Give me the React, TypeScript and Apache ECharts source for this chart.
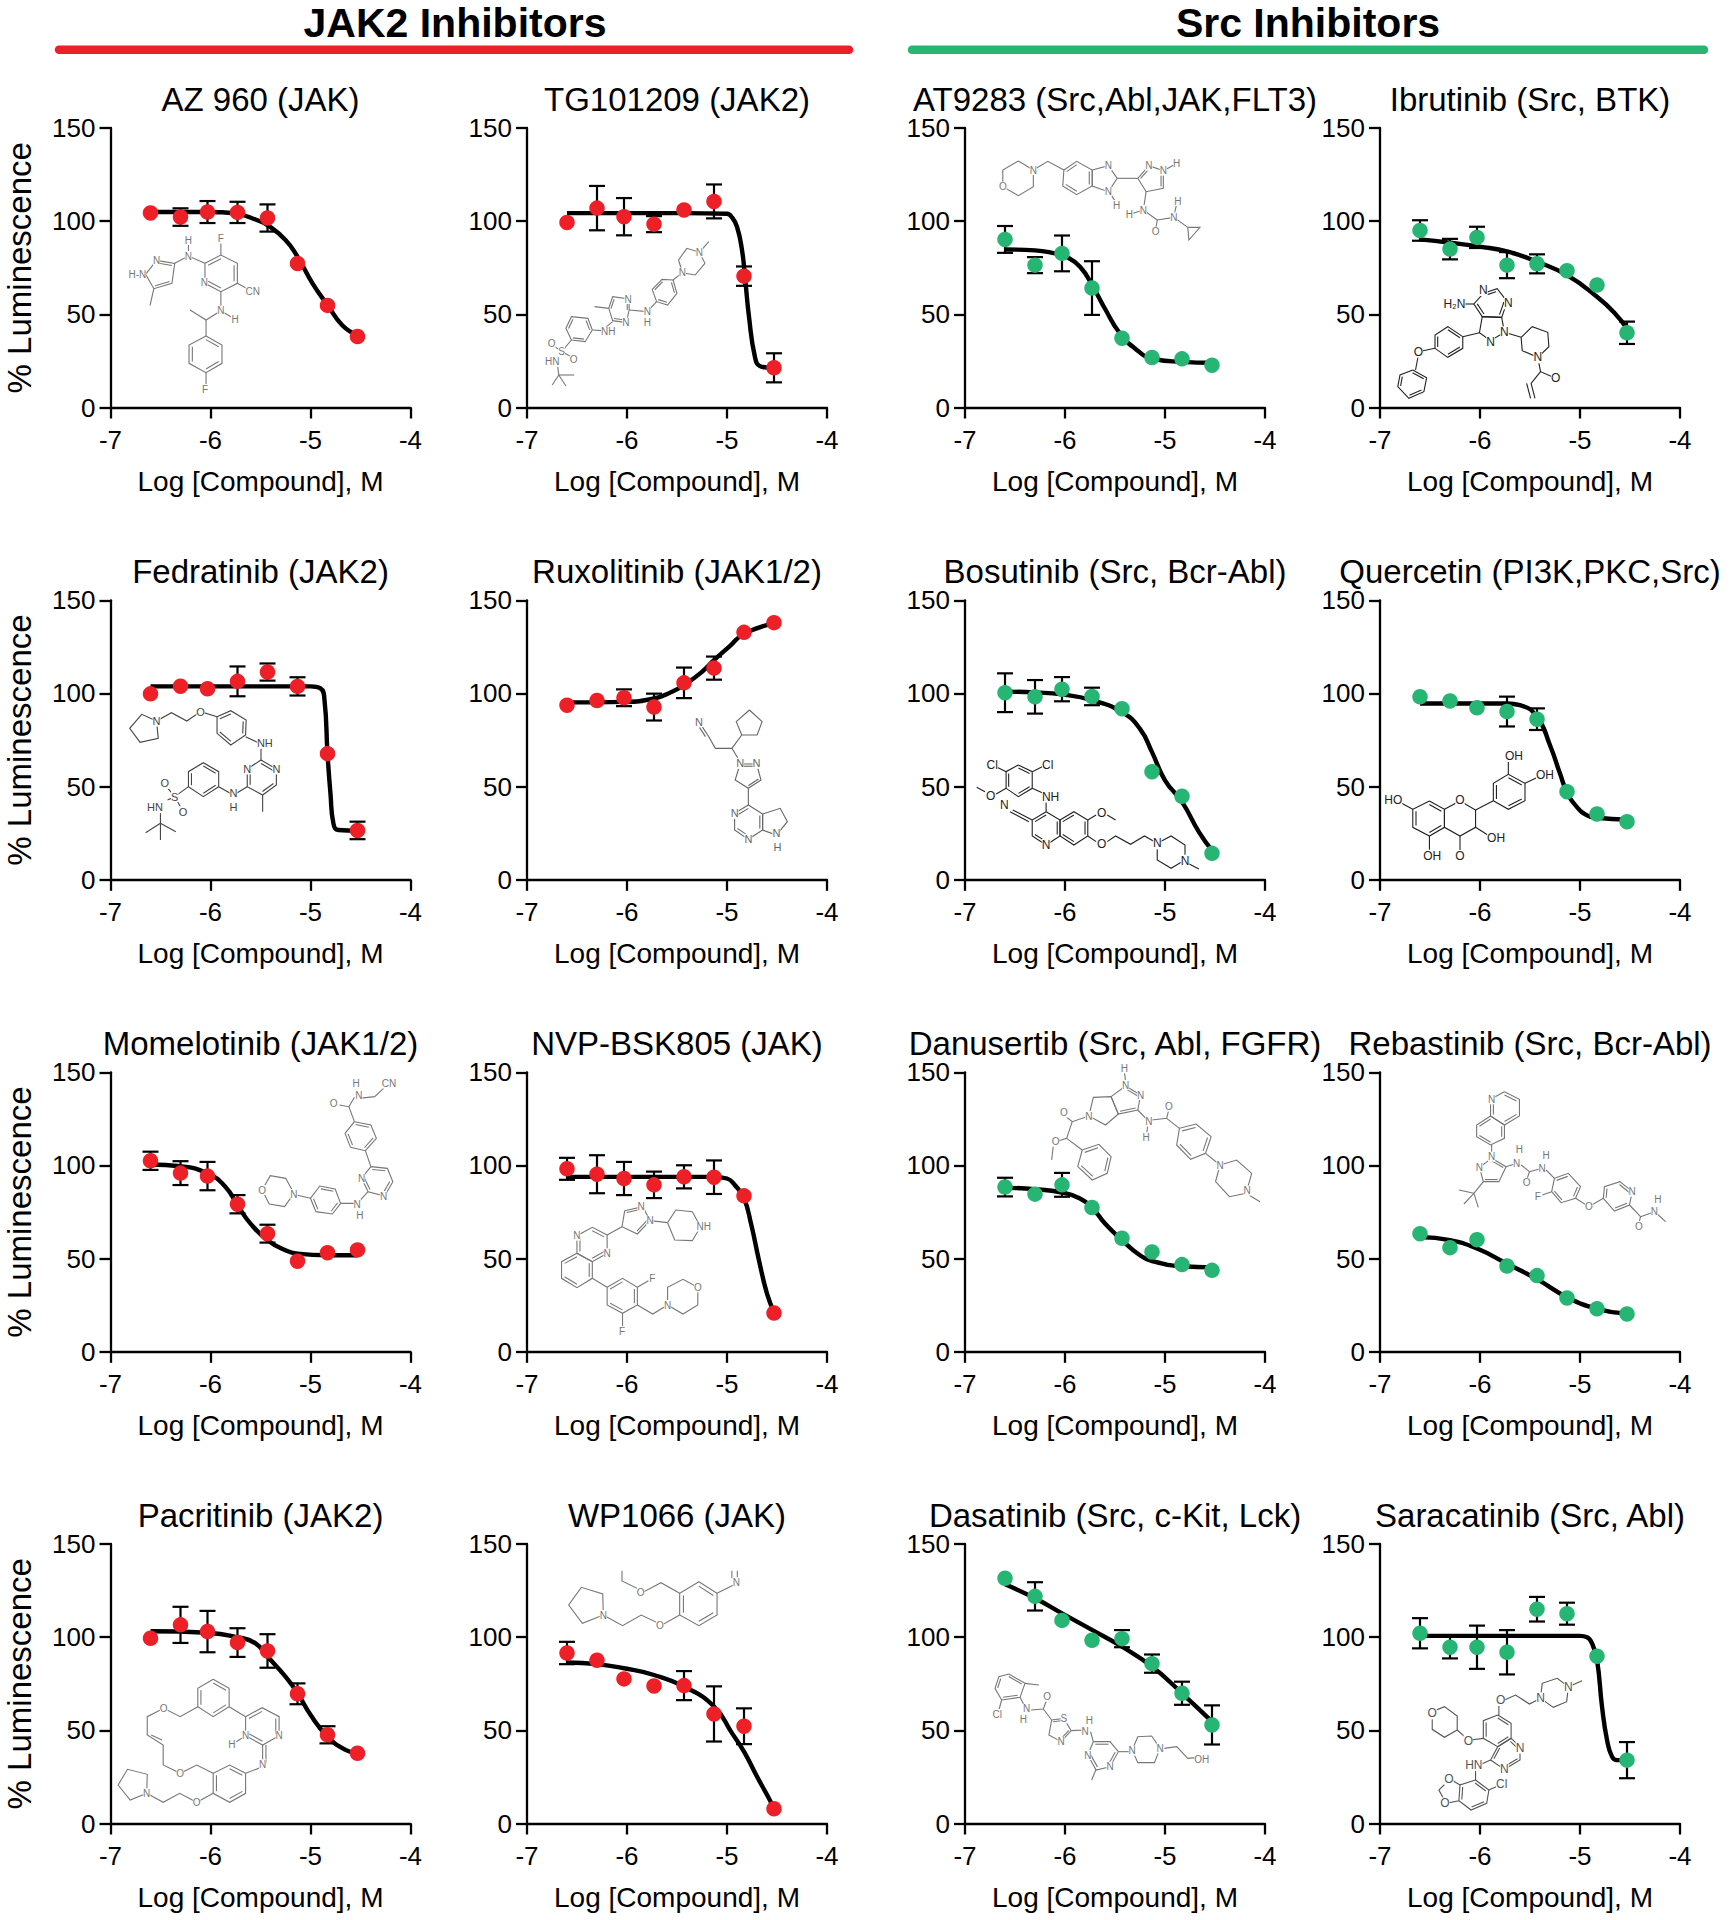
import React, { useEffect, useRef } from "react";
import * as echarts from "echarts";

const FONT = '"Liberation Sans", Arial, sans-serif';
const RED = "#ED2027";
const GREEN = "#27B574";

const doses = [-6.6, -6.3, -6.03, -5.73, -5.43, -5.13, -4.83, -4.53];
const xAxisName = "Log [Compound], M";
const yAxisName = "% Luminescence";

// ---- JAK2 inhibitors ----
const az960Values = [104.4, 102.2, 104.9, 104.7, 101.7, 77.3, 54.8, 38.1];
const az960Err = [0, 4.7, 5.9, 5.7, 7.3, 0, 0, 0];
const az960CurveX = [-6.6, -6.03, -5.73, -5.53, -5.43, -5.25, -5.13, -4.98, -4.83, -4.68, -4.53];
const az960CurveY = [104.9, 104.9, 103.8, 100.5, 97.9, 89.9, 80.9, 66.6, 55, 44, 38.8];

const tg101209Values = [99.3, 107, 102.4, 98.4, 106, 110.6, 70.5, 21.3];
const tg101209Err = [0, 11.9, 10, 4.3, 0, 9.1, 5.2, 7.8];
const tg101209CurveX = [-6.6, -5.43, -5, -4.95, -4.9, -4.85, -4.82, -4.78, -4.72, -4.67, -4.6, -4.53];
const tg101209CurveY = [104.3, 104.3, 104, 102, 97, 84.5, 70, 48.7, 27, 22.2, 21.5, 21.3];

const fedratinibValues = [99.8, 103.9, 102.5, 106.5, 111.5, 103.8, 67.7, 26.5];
const fedratinibErr = [0, 0, 0, 8, 4.6, 4.9, 0, 4.7];
const fedratinibCurveX = [-6.6, -5.43, -5, -4.9, -4.86, -4.83, -4.8, -4.77, -4.72, -4.53];
const fedratinibCurveY = [103.8, 103.8, 103.8, 102.7, 96.4, 67.7, 46, 30, 26.7, 26.3];

const ruxolitinibValues = [93.7, 96.2, 97.7, 92.7, 105.7, 113.6, 132.8, 138];
const ruxolitinibErr = [0, 0, 4.5, 7.2, 8.2, 6.2, 0, 0];
const ruxolitinibCurveX = [-6.6, -6.03, -5.73, -5.55, -5.43, -5.25, -5.13, -4.98, -4.83, -4.53];
const ruxolitinibCurveY = [95.2, 95.5, 97.3, 100.9, 104.5, 111.6, 117.9, 125, 132, 137.6];

const momelotinibValues = [102.5, 95.9, 94.3, 79.2, 63.4, 48.6, 53.2, 54.7];
const momelotinibErr = [4.9, 6.4, 7.6, 4.9, 4.8, 0, 0, 0];
const momelotinibCurveX = [-6.6, -6.3, -6.03, -5.85, -5.73, -5.6, -5.43, -5.25, -5.13, -4.83, -4.53];
const momelotinibCurveY = [100.5, 99.6, 95.7, 88.5, 78.7, 68.8, 59.9, 54.5, 52.7, 51.8, 51.8];

const nvpBsk805Values = [98.2, 95.3, 93, 89.6, 93.9, 93.7, 83.7, 20.8];
const nvpBsk805Err = [5.9, 10.2, 8.9, 7.1, 6.2, 9, 0, 0];
const nvpBsk805CurveX = [-6.6, -5.13, -5, -4.92, -4.83, -4.76, -4.68, -4.6, -4.53];
const nvpBsk805CurveY = [93.9, 93.9, 93, 89.4, 82.3, 68.8, 49, 31.2, 21.3];

const pacritinibValues = [99.4, 106.6, 103, 97.1, 92.6, 69.6, 47.6, 37.7];
const pacritinibErr = [0, 9.7, 11.1, 7.7, 9, 5.6, 4.6, 0];
const pacritinibCurveX = [-6.6, -6.03, -5.73, -5.55, -5.43, -5.25, -5.13, -5, -4.83, -4.65, -4.53];
const pacritinibCurveY = [103.2, 102.4, 100, 96.7, 89.6, 78.8, 70, 58.3, 46.7, 39.5, 37.7];

const wp1066Values = [91.5, 87.6, 77.6, 73.8, 74, 58.8, 52.2, 7.9];
const wp1066Err = [6, 0, 0, 0, 7.8, 14.8, 9.6, 0];
const wp1066CurveX = [-6.6, -6.3, -6.03, -5.73, -5.43, -5.13, -4.95, -4.83, -4.7, -4.6, -4.53];
const wp1066CurveY = [86.4, 85.5, 83.3, 79.7, 73.5, 62.8, 48.5, 38.6, 25.2, 15.4, 8.2];

// ---- Src inhibitors ----
const at9283Values = [90.2, 76.4, 82.7, 64.1, 37.2, 26.8, 26.1, 22.7];
const at9283Err = [7.2, 4.3, 9.6, 14.4, 0, 0, 0, 0];
const at9283CurveX = [-6.6, -6.3, -6.1, -6, -5.85, -5.72, -5.6, -5.45, -5.3, -5.13, -4.83, -4.53];
const at9283CurveY = [84.8, 84.3, 82.7, 81.3, 75.5, 64.8, 53, 39.7, 31.7, 26.3, 24.5, 24];

const ibrutinibValues = [95, 85, 91.3, 76.4, 77.1, 73.4, 65.7, 40.1];
const ibrutinibErr = [5.5, 5.5, 5.7, 7, 5.1, 0, 0, 6];
const ibrutinibCurveX = [-6.6, -6.3, -6, -5.72, -5.43, -5.13, -4.83, -4.65, -4.53];
const ibrutinibCurveY = [90.2, 88.4, 86.3, 83.6, 78.2, 71, 59.4, 50.5, 42.4];

const bosutinibValues = [100.4, 98.2, 102.3, 98.4, 91.8, 58, 44.8, 14.2];
const bosutinibErr = [10.4, 9, 6.5, 4.7, 0, 0, 0, 0];
const bosutinibCurveX = [-6.6, -6.3, -6.03, -5.73, -5.43, -5.25, -5.13, -5, -4.83, -4.66, -4.53];
const bosutinibCurveY = [101, 100.5, 99.5, 96.4, 90, 81, 68.5, 53.4, 41.8, 25.6, 15.8];

const quercetinValues = [98.2, 96, 92.3, 90.3, 86.2, 47.3, 35.3, 31.2];
const quercetinErr = [0, 0, 0, 8, 5.8, 0, 0, 0];
const quercetinCurveX = [-6.6, -5.73, -5.6, -5.43, -5.3, -5.2, -5.13, -5.03, -4.93, -4.83, -4.53];
const quercetinCurveY = [94.6, 94.6, 93.7, 87.5, 72.2, 57, 47, 39, 34.6, 33.3, 32.3];

const danusertibValues = [88.4, 84.6, 89.6, 77.4, 60.9, 53.6, 46.8, 43.7];
const danusertibErr = [5, 0, 6.4, 0, 0, 0, 0, 0];
const danusertibCurveX = [-6.6, -6.3, -6.03, -5.85, -5.73, -5.6, -5.43, -5.25, -5.13, -4.83, -4.53];
const danusertibCurveY = [88, 87.3, 85.5, 82.3, 77.4, 68.8, 59.9, 51.8, 48.7, 45.9, 45.3];

const rebastinibValues = [63.4, 55.9, 60.2, 46, 40.9, 28.9, 23.1, 20.3];
const rebastinibErr = [0, 0, 0, 0, 0, 0, 0, 0];
const rebastinibCurveX = [-6.6, -6.3, -6.03, -5.73, -5.43, -5.13, -4.83, -4.53];
const rebastinibCurveY = [61.6, 59.9, 55.4, 47.3, 39, 29.3, 23.1, 20.4];

const dasatinibValues = [131.6, 121.9, 109, 98.3, 99.2, 85.8, 69.9, 52.9];
const dasatinibErr = [0, 7.6, 0, 0, 4.6, 4.9, 6.2, 10.5];
const dasatinibCurveX = [-6.6, -6.3, -6.03, -5.73, -5.43, -5.13, -4.83, -4.53];
const dasatinibCurveY = [128.4, 120.9, 112.8, 103.9, 94.9, 84.2, 69.9, 54.7];

const saracatinibValues = [102.1, 94.6, 94.6, 91.9, 115, 112.6, 89.8, 34];
const saracatinibErr = [8.1, 6, 11.6, 11.9, 6.6, 5.9, 0, 9.7];
const saracatinibCurveX = [-6.6, -5.43, -5, -4.93, -4.88, -4.83, -4.78, -4.73, -4.68, -4.63, -4.53];
const saracatinibCurveY = [100.7, 100.7, 100.7, 100, 96.7, 87.8, 62.8, 44.9, 35.9, 34, 34];

const headers = [
  { text: "JAK2 Inhibitors", cx: 455, x0: 59, x1: 849, color: RED },
  { text: "Src Inhibitors", cx: 1308, x0: 912, x1: 1704, color: GREEN },
];

const colLeft = [110.5, 527, 965, 1380];
const rowTop = [128, 600.3, 1072.3, 1544];
const plotW = 300;
const plotH = 279.5;

const panels = [
  { col: 0, row: 0, title: "AZ 960 (JAK)", color: RED, v: az960Values, e: az960Err, cx: az960CurveX, cy: az960CurveY },
  { col: 1, row: 0, title: "TG101209 (JAK2)", color: RED, v: tg101209Values, e: tg101209Err, cx: tg101209CurveX, cy: tg101209CurveY },
  { col: 2, row: 0, title: "AT9283 (Src,Abl,JAK,FLT3)", color: GREEN, v: at9283Values, e: at9283Err, cx: at9283CurveX, cy: at9283CurveY },
  { col: 3, row: 0, title: "Ibrutinib (Src, BTK)", color: GREEN, v: ibrutinibValues, e: ibrutinibErr, cx: ibrutinibCurveX, cy: ibrutinibCurveY },
  { col: 0, row: 1, title: "Fedratinib (JAK2)", color: RED, v: fedratinibValues, e: fedratinibErr, cx: fedratinibCurveX, cy: fedratinibCurveY },
  { col: 1, row: 1, title: "Ruxolitinib (JAK1/2)", color: RED, v: ruxolitinibValues, e: ruxolitinibErr, cx: ruxolitinibCurveX, cy: ruxolitinibCurveY },
  { col: 2, row: 1, title: "Bosutinib (Src, Bcr-Abl)", color: GREEN, v: bosutinibValues, e: bosutinibErr, cx: bosutinibCurveX, cy: bosutinibCurveY },
  { col: 3, row: 1, title: "Quercetin (PI3K,PKC,Src)", color: GREEN, v: quercetinValues, e: quercetinErr, cx: quercetinCurveX, cy: quercetinCurveY },
  { col: 0, row: 2, title: "Momelotinib (JAK1/2)", color: RED, v: momelotinibValues, e: momelotinibErr, cx: momelotinibCurveX, cy: momelotinibCurveY },
  { col: 1, row: 2, title: "NVP-BSK805 (JAK)", color: RED, v: nvpBsk805Values, e: nvpBsk805Err, cx: nvpBsk805CurveX, cy: nvpBsk805CurveY },
  { col: 2, row: 2, title: "Danusertib (Src, Abl, FGFR)", color: GREEN, v: danusertibValues, e: danusertibErr, cx: danusertibCurveX, cy: danusertibCurveY },
  { col: 3, row: 2, title: "Rebastinib (Src, Bcr-Abl)", color: GREEN, v: rebastinibValues, e: rebastinibErr, cx: rebastinibCurveX, cy: rebastinibCurveY },
  { col: 0, row: 3, title: "Pacritinib (JAK2)", color: RED, v: pacritinibValues, e: pacritinibErr, cx: pacritinibCurveX, cy: pacritinibCurveY },
  { col: 1, row: 3, title: "WP1066 (JAK)", color: RED, v: wp1066Values, e: wp1066Err, cx: wp1066CurveX, cy: wp1066CurveY },
  { col: 2, row: 3, title: "Dasatinib (Src, c-Kit, Lck)", color: GREEN, v: dasatinibValues, e: dasatinibErr, cx: dasatinibCurveX, cy: dasatinibCurveY },
  { col: 3, row: 3, title: "Saracatinib (Src, Abl)", color: GREEN, v: saracatinibValues, e: saracatinibErr, cx: saracatinibCurveX, cy: saracatinibCurveY },
];

// ---- Structure sketches (decoration). Coordinates are in a per-tile drawing space. ----
const tiles = [
  { ox: 0, oy: 0, sx: 1 / 1.82 },
  { ox: 860, oy: 0, sx: 1 / 1.8 },
  { ox: 0, oy: 540, sx: 1 / 1.82 },
  { ox: 860, oy: 540, sx: 1 / 1.8 },
  { ox: 0, oy: 1010, sx: 1 / 1.82 },
  { ox: 860, oy: 1010, sx: 1 / 1.8 },
  { ox: 0, oy: 1480, sx: 1 / 1.82 },
  { ox: 860, oy: 1480, sx: 1 / 1.8 },
];

type Mol = { tile: number; color: string; size: number; aro: number[]; rings: number[][]; bonds: number[][]; labels: [string, number, number][] };

const molecules: Mol[] = [
  { tile: 0, color: "#777777", size: 10, aro: [0, 1, 2],
    rings: [[285,781,318,790,313,850,280,866,265,823],[373,790,402,765,432,790,432,850,402,875,373,850],[375,1008,404,1035,404,1090,375,1118,344,1090,344,1035]],
    bonds: [[280,866,273,917],[318,790,343,768,373,790],[343,730,343,756],[402,765,402,728],[432,850,452,868],[402,875,402,925],[408,938,420,950],[402,932,375,960,346,930],[375,960,375,1008],[375,1118,375,1155]],
    labels: [["N",285,781],["H-N",250,823],["N",343,768],["H",343,720],["N",372,848],["F",402,716],["CN",460,873],["N",402,932],["H",428,957],["F",373,1167]] },
  { tile: 0, color: "#777777", size: 10, aro: [1, 2, 3],
    rings: [[1273,757,1250,745,1235,780,1242,818,1265,825,1283,790],[1225,840,1232,880,1215,915,1195,905,1187,868,1205,838],[1145,930,1145,897,1115,890,1108,925,1115,962,1140,968],[1078,990,1070,955,1040,950,1030,985,1040,1020,1065,1025]],
    bonds: [[1273,757,1290,725],[1242,818,1225,840],[1195,905,1178,935,1145,930],[1108,925,1082,920],[1115,965,1095,992],[1078,990,1095,992],[1040,1020,1022,1055],[1015,1100,1017,1125],[1017,1125,1045,1125],[1017,1125,1030,1158],[1017,1125,1005,1155],[1022,1055,1006,1035],[1022,1055,1042,1072]],
    labels: [["N",1273,757],["N",1242,818],["N",1178,933],["H",1178,966],["N",1143,897],["N",1139,968],["NH",1107,995],["S",1022,1055],["O",1004,1030],["O",1044,1077],["HN",1005,1085]] },
  { tile: 1, color: "#777777", size: 10, aro: [1, 3],
    rings: [[285,483,312,510,312,560,285,587,257,560,257,510],[367,510,390,484,418,510,418,558,390,584,365,558],[418,510,447,497,463,535,447,575,418,558],[500,535,520,497,546,512,546,565,515,575],[590,682,612,682,592,720]],
    bonds: [[312,510,338,484,367,510],[463,535,500,535],[546,512,565,495],[515,575,510,630,535,660,532,692],[535,660,565,652,590,682],[570,612,566,640],[450,580,460,605],[510,630,492,640]],
    labels: [["N",312,510],["O",257,560],["N",447,497],["N",447,575],["H",462,615],["N",520,497],["N",546,512],["H",570,490],["N",510,630],["H",485,642],["O",532,695],["N",565,652],["H",572,603]] },
  { tile: 1, color: "#222222", size: 12, aro: [0, 2, 3],
    rings: [[1122,880,1147,866,1165,905,1155,952,1120,950,1105,912],[1155,952,1160,997,1135,1022,1115,998,1120,950],[1085,1010,1058,980,1035,1005,1035,1045,1058,1072,1085,1045],[995,1110,1020,1133,1015,1175,988,1195,968,1160,972,1125],[1190,1012,1210,980,1238,997,1240,1040,1220,1072,1192,1052]],
    bonds: [[1085,912,1105,912],[1115,998,1085,1010],[1035,1045,1005,1055],[1005,1065,1000,1110],[1160,997,1190,1012],[1220,1072,1225,1115,1250,1133],[1225,1115,1208,1150,1215,1195],[1200,1150,1207,1195]],
    labels: [["N",1122,870],["N",1167,910],["H₂N",1070,913],["N",1160,997],["N",1135,1025],["O",1005,1055],["N",1220,1072],["O",1252,1133]] },
  { tile: 2, color: "#444444", size: 11, aro: [1, 2, 3],
    rings: [[285,543,258,523,236,565,255,607,288,595],[395,530,420,512,448,540,447,585,420,615,395,580],[475,660,503,687,503,735,478,765,450,740,450,687],[398,740,370,770,343,740,343,695,370,668,398,695]],
    bonds: [[285,543,312,518,340,543,365,515,395,530],[447,590,470,608],[475,620,475,660],[478,765,478,815],[450,740,425,765,398,740],[343,740,318,770],[318,770,303,740],[318,770,330,805],[292,820,292,850],[292,850,265,878],[292,850,320,875],[292,850,292,900],[305,780,318,770]],
    labels: [["N",285,543],["O",365,515],["NH",482,610],["N",503,687],["N",450,687],["N",425,760],["H",425,800],["S",318,770],["O",300,730],["O",333,815],["HN",282,800]] },
  { tile: 2, color: "#666666", size: 11, aro: [1, 2],
    rings: [[1364,510,1387,545,1378,585,1350,585,1340,545],[1347,672,1377,672,1385,720,1362,745,1338,720],[1362,795,1337,820,1337,870,1362,898,1388,870,1388,822],[1388,822,1420,805,1433,845,1413,885,1388,870]],
    bonds: [[1350,585,1332,625,1302,625,1290,590,1278,560],[1332,625,1345,660],[1362,745,1362,795],[1284,590,1273,562]],
    labels: [["N",1272,545],["N",1347,670],["N",1377,670],["N",1337,820],["N",1362,898],["N",1413,880],["H",1415,920]] },
  { tile: 3, color: "#222222", size: 12, aro: [0, 1, 2],
    rings: [[285,675,310,695,310,745,285,770,263,745,263,695],[335,815,310,840,310,888,335,915,360,888,360,840],[360,840,385,815,410,840,410,888,385,915,360,888],[535,910,560,888,585,915,585,960,560,985,535,960]],
    bonds: [[263,695,245,680],[310,695,328,680],[263,745,245,762],[225,755,210,742],[310,745,333,762],[335,785,335,815],[310,840,275,810],[304,845,270,815],[410,840,425,825],[445,825,460,840],[410,888,425,905],[445,905,460,888,487,913,512,888,535,910],[590,970,610,987]],
    labels: [["Cl",238,675],["Cl",338,675],["O",235,768],["NH",343,770],["N",260,795],["N",335,915],["O",435,818],["O",435,913],["N",535,910],["N",585,962]] },
  { tile: 3, color: "#222222", size: 12, aro: [0, 2],
    rings: [[1025,783,1052,808,1052,862,1025,888,995,862,995,808],[1052,808,1080,783,1108,810,1108,862,1080,888,1052,862],[1140,782,1140,730,1167,703,1197,730,1197,782,1167,808]],
    bonds: [[1108,810,1140,782],[995,808,975,790],[1025,888,1025,935],[1080,888,1080,935],[1108,862,1130,885],[1167,703,1167,660],[1197,730,1220,712]],
    labels: [["HO",960,780],["O",1080,780],["OH",1030,947],["O",1080,948],["OH",1145,895],["OH",1177,648],["OH",1233,705]] },
  { tile: 4, color: "#777777", size: 10, aro: [0, 1, 2],
    rings: [[645,335,675,345,685,385,665,422,638,412,628,370],[675,470,705,475,715,515,700,558,670,545,658,505],[620,580,605,612,575,605,565,565,582,528,610,537],[535,550,520,505,492,497,477,540,490,582,518,590]],
    bonds: [[653,265,682,260,698,235],[645,262,635,290,618,285],[635,290,645,335],[665,422,675,470],[670,545,650,580,620,580],[565,565,540,555]],
    labels: [["CN",708,220],["H",648,220],["N",653,256],["O",607,280],["N",658,505],["N",698,558],["N",650,582],["H",655,616],["N",535,552],["O",477,540]] },
  { tile: 4, color: "#777777", size: 10, aro: [0, 2, 3, 4],
    rings: [[1137,602,1170,590,1183,632,1160,672,1132,650],[1215,638,1230,600,1260,605,1275,650,1260,692,1228,690],[1105,675,1078,652,1050,677,1050,730,1078,755,1105,730],[1050,730,1022,755,1022,805,1050,833,1078,805,1078,755],[1105,832,1133,805,1160,832,1160,885,1133,910,1105,885],[1215,885,1215,832,1243,808,1270,832,1270,885,1243,912]],
    bonds: [[1183,632,1215,638],[1132,650,1105,675],[1078,805,1105,832],[1160,832,1180,812],[1133,910,1133,950],[1160,885,1188,912,1215,885]],
    labels: [["N",1167,590],["N",1183,632],["NH",1281,650],["N",1050,677],["N",1105,730],["F",1187,805],["F",1132,963],["N",1215,885],["O",1270,832]] },
  { tile: 5, color: "#777777", size: 10, aro: [0, 2, 3],
    rings: [[478,228,505,255,500,300,465,312,452,260],[452,260,420,262,412,318,442,345,465,312],[400,420,430,403,452,440,445,490,418,510,392,470],[575,355,605,342,632,380,622,430,595,448,570,405],[648,465,678,450,705,490,695,550,665,560,640,515]],
    bonds: [[476,185,478,215],[412,318,382,335,367,315],[382,335,372,385,358,392],[348,405,345,450],[372,385,400,420],[500,300,520,335],[518,345,516,372],[525,330,552,325,556,298],[552,325,575,355],[622,430,648,465],[700,555,720,575]],
    labels: [["H",476,175],["N",478,225],["N",505,255],["N",412,318],["O",367,308],["O",352,395],["N",520,335],["H",515,382],["O",556,290],["N",648,465],["N",697,542]] },
  { tile: 5, color: "#777777", size: 10, aro: [0, 1, 2, 3, 4],
    rings: [[1160,245,1187,268,1187,318,1160,345,1135,318,1135,268],[1135,318,1110,345,1110,380,1135,405,1160,385,1160,345],[1137,445,1163,470,1150,515,1122,515,1115,472],[1250,505,1275,490,1297,530,1288,565,1262,578,1245,545],[1338,565,1340,530,1368,515,1390,545,1385,585,1358,603]],
    bonds: [[1137,405,1137,440],[1122,515,1105,550],[1105,550,1078,540],[1105,550,1087,582],[1105,550,1113,592],[1163,470,1182,460],[1190,465,1205,485,1200,510],[1205,485,1228,475],[1235,480,1250,505],[1245,545,1228,555],[1288,565,1312,590,1338,565],[1385,585,1405,620,1402,640],[1405,620,1430,605],[1435,612,1450,635]],
    labels: [["N",1137,268],["N",1137,440],["N",1115,472],["N",1182,460],["H",1187,418],["O",1200,518],["N",1228,475],["H",1235,435],["F",1220,558],["O",1312,590],["N",1390,545],["O",1402,648],["N",1430,605],["H",1436,567]] },
  { tile: 6, color: "#777777", size: 10, aro: [0, 1, 2],
    rings: [[388,598,417,625,417,680,388,710,360,680,360,625],[447,710,477,683,508,710,508,767,478,795,447,767],[447,880,418,855,388,880,388,940,418,967,447,940],[267,940,268,883,232,868,215,915,237,960]],
    bonds: [[360,680,328,710,298,685,268,710,268,765,297,795,297,855,328,880,358,855,388,880],[275,765,295,780],[417,680,447,710],[430,785,440,775],[478,795,478,850],[484,795,484,850],[478,860,447,880],[388,940,358,967,327,940,297,967,267,940]],
    labels: [["O",298,685],["N",447,767],["N",508,767],["H",422,792],["N",478,853],["O",328,880],["O",358,967],["N",267,940]] },
  { tile: 6, color: "#777777", size: 10, aro: [0],
    rings: [[1272,305,1305,340,1305,405,1272,437,1237,405,1237,340],[1098,405,1097,342,1058,322,1035,375,1060,430]],
    bonds: [[1305,340,1335,315],[1332,272,1332,295],[1342,272,1342,295],[1237,340,1203,308,1172,335,1132,303,1132,272],[1237,405,1205,435,1167,405,1133,437,1098,405]],
    labels: [["N",1340,307],["O",1166,338],["O",1201,436],["N",1098,405]] },
  { tile: 7, color: "#777777", size: 10, aro: [0, 1, 2],
    rings: [[268,582,297,610,288,652,255,660,243,625,250,590],[345,720,367,715,380,752,362,785,340,765],[420,785,450,785,465,815,450,860,425,870,410,825],[490,810,500,770,525,768,540,805,530,848,500,848]],
    bonds: [[297,610,322,615],[255,660,250,690],[288,652,300,690],[308,690,330,687,337,655],[330,687,345,720],[380,752,405,750],[415,755,420,785],[425,868,417,900],[465,815,488,815],[548,805,570,800,590,835,610,832]],
    labels: [["Cl",247,702],["N",300,686],["H",294,719],["O",337,650],["S",367,715],["N",362,785],["N",405,754],["H",413,721],["N",410,825],["N",450,860],["N",490,812],["N",540,805],["OH",615,838]] },
  { tile: 7, color: "#555555", size: 12, aro: [1, 2, 4],
    rings: [[1275,620,1255,595,1228,610,1225,655,1248,682,1272,665],[1148,705,1172,730,1172,775,1148,800,1122,775,1122,722],[1172,775,1188,800,1188,840,1160,868,1135,840,1148,800],[1075,750,1075,708,1052,680,1030,695,1030,748,1052,772],[1108,900,1132,930,1128,970,1100,990,1078,962,1080,915]],
    bonds: [[1275,620,1300,602],[1225,655,1205,672,1180,645,1160,660],[1150,668,1150,705],[1122,775,1100,780],[1090,772,1075,750],[1135,840,1115,855],[1108,868,1108,900],[1132,930,1145,920],[1080,915,1062,897,1042,930,1055,970,1078,962]],
    labels: [["N",1275,620],["N",1225,655],["O",1153,660],["O",1095,782],["O",1030,700],["N",1188,803],["N",1160,868],["HN",1105,855],["Cl",1155,912],["O",1060,897],["O",1053,970]] },
];

function pairsToPoints(arr: number[], t: { ox: number; oy: number; sx: number }, close: boolean) {
  const pts: number[][] = [];
  for (let i = 0; i < arr.length; i += 2) pts.push([t.ox + arr[i] * t.sx, t.oy + arr[i + 1] / 3]);
  if (close) pts.push(pts[0]);
  return pts;
}

function innerBonds(pts: number[][]) {
  const n = pts.length;
  const cx = pts.reduce((s, p) => s + p[0], 0) / n;
  const cy = pts.reduce((s, p) => s + p[1], 0) / n;
  const toward = (p: number[], k: number) => [p[0] + (cx - p[0]) * k, p[1] + (cy - p[1]) * k];
  const out: number[][][] = [];
  for (let i = 0; i + 1 < n; i += 2) out.push([toward(pts[i], 0.2), toward(pts[(i + 1) % n], 0.2)]);
  return out;
}

function moleculeElements(): any[] {
  const out: any[] = [];
  molecules.forEach((m) => {
    const t = tiles[m.tile];
    const lineStyle = { stroke: m.color, lineWidth: 1.1, fill: "none" };
    m.rings.forEach((r, ri) => {
      out.push({ type: "polyline", silent: true, z: 1, shape: { points: pairsToPoints(r, t, true) }, style: lineStyle });
      if (m.aro.includes(ri)) {
        innerBonds(pairsToPoints(r, t, false)).forEach((pts) =>
          out.push({ type: "polyline", silent: true, z: 1, shape: { points: pts }, style: lineStyle })
        );
      }
    });
    m.bonds.forEach((b) =>
      out.push({ type: "polyline", silent: true, z: 1, shape: { points: pairsToPoints(b, t, false) }, style: lineStyle })
    );
    m.labels.forEach(([text, x, y]) =>
      out.push({
        type: "text", silent: true, z: 1,
        style: {
          text, x: t.ox + x * t.sx, y: t.oy + y / 3, align: "center", verticalAlign: "middle",
          fill: m.color, fontSize: m.size, fontFamily: FONT, backgroundColor: "#ffffff",
        },
      })
    );
  });
  return out;
}

function buildOption() {
  const grid: any[] = [];
  const xAxis: any[] = [];
  const yAxis: any[] = [];
  const series: any[] = [];
  const title: any[] = [];
  const graphic: any[] = [];

  headers.forEach((h) => {
    title.push({
      text: h.text, left: h.cx, top: 23, padding: 0, textAlign: "center", textVerticalAlign: "middle",
      textStyle: { fontFamily: FONT, fontSize: 41, fontWeight: "bold", color: "#000" },
    });
    graphic.push({
      type: "line", silent: true, z: 1,
      shape: { x1: h.x0, y1: 49.7, x2: h.x1, y2: 49.7 },
      style: { stroke: h.color, lineWidth: 8.5, lineCap: "round" },
    });
  });

  panels.forEach((p, i) => {
    const left = colLeft[p.col];
    const top = rowTop[p.row];
    grid.push({ left, top, width: plotW, height: plotH, containLabel: false });
    title.push({
      text: p.title, left: left + 150, top: top - 28.5, padding: 0, textAlign: "center", textVerticalAlign: "middle",
      textStyle: { fontFamily: FONT, fontSize: 33, fontWeight: "normal", color: "#000" },
    });
    const axisLine = { onZero: false, lineStyle: { color: "#000", width: 2.3 } };
    xAxis.push({
      type: "value", gridIndex: i, min: -7, max: -4, interval: 1, splitLine: { show: false },
      axisLine: { show: true, ...axisLine },
      axisTick: { show: true, length: 11, lineStyle: { color: "#000", width: 2.3 } },
      axisLabel: { fontFamily: FONT, fontSize: 26, color: "#000", margin: 19, showMinLabel: true, showMaxLabel: true },
      name: xAxisName, nameLocation: "middle", nameGap: 60,
      nameTextStyle: { fontFamily: FONT, fontSize: 28, color: "#000" },
    });
    yAxis.push({
      type: "value", gridIndex: i, min: 0, max: 150, interval: 50, splitLine: { show: false },
      axisLine: { show: true, ...axisLine },
      axisTick: { show: true, length: 11, lineStyle: { color: "#000", width: 2.3 } },
      axisLabel: { fontFamily: FONT, fontSize: 26, color: "#000", margin: 15, showMinLabel: true, showMaxLabel: true },
      ...(p.col === 0
        ? {
            name: yAxisName, nameLocation: "middle", nameGap: 75, nameRotate: 90,
            nameTextStyle: { fontFamily: FONT, fontSize: 33, color: "#000" },
          }
        : {}),
    });

    series.push({
      type: "line", xAxisIndex: i, yAxisIndex: i, z: 3, silent: true,
      showSymbol: false, smooth: 0.5, clip: false,
      lineStyle: { color: "#000", width: 4.4 },
      data: p.cx.map((x, k) => [x, p.cy[k]]),
    });
    const errData = p.v
      .map((y, k) => [doses[k], y - p.e[k], y + p.e[k]])
      .filter((_, k) => p.e[k] > 0);
    series.push({
      type: "custom", xAxisIndex: i, yAxisIndex: i, z: 4, silent: true, clip: false,
      encode: { x: 0, y: [1, 2] },
      data: errData,
      renderItem: (_params: any, api: any) => {
        const lo = api.coord([api.value(0), api.value(1)]);
        const hi = api.coord([api.value(0), api.value(2)]);
        const style = { stroke: "#000", lineWidth: 2.2, fill: "none" };
        const cap = 8;
        return {
          type: "group",
          children: [
            { type: "line", shape: { x1: lo[0], y1: lo[1], x2: hi[0], y2: hi[1] }, style },
            { type: "line", shape: { x1: lo[0] - cap, y1: lo[1], x2: lo[0] + cap, y2: lo[1] }, style },
            { type: "line", shape: { x1: hi[0] - cap, y1: hi[1], x2: hi[0] + cap, y2: hi[1] }, style },
          ],
        };
      },
    });
    series.push({
      type: "scatter", xAxisIndex: i, yAxisIndex: i, z: 5, silent: true, clip: false,
      symbol: "circle", symbolSize: 15.5,
      itemStyle: { color: p.color, opacity: 1 },
      data: p.v.map((y, k) => [doses[k], y]),
    });
  });

  return {
    animation: false,
    backgroundColor: "#ffffff",
    tooltip: { show: false },
    legend: { show: false },
    title, grid, xAxis, yAxis, series,
    graphic: { elements: [...graphic, ...moleculeElements()] },
  };
}

export default function App() {
  const ref = useRef<HTMLDivElement>(null);
  useEffect(() => {
    document.body.style.margin = "0";
    const chart = echarts.init(ref.current!, undefined, { renderer: "svg" });
    chart.setOption(buildOption() as any);
    return () => chart.dispose();
  }, []);
  return <div ref={ref} style={{ width: 1730, height: 1920 }} />;
}
